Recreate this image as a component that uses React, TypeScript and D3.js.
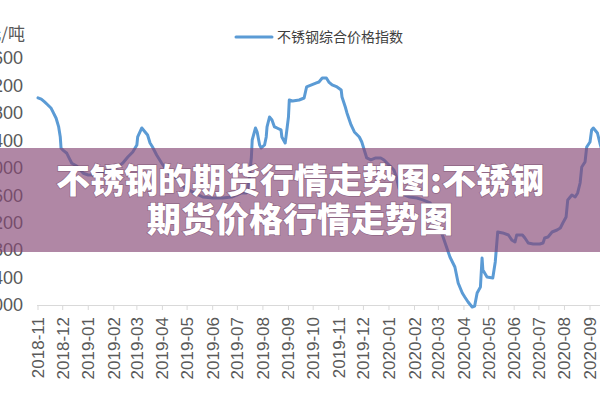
import React from "react";
import * as d3 from "d3";

const dates: string[] = [
  "2018-11-01","2018-11-05","2018-11-09","2018-11-13","2018-11-17","2018-11-19","2018-11-23","2018-11-26","2018-11-28","2018-11-29",
  "2018-12-02","2018-12-06","2018-12-09","2018-12-12","2018-12-18","2018-12-26","2019-01-01","2019-01-09","2019-01-19","2019-01-27",
  "2019-02-06","2019-02-12","2019-02-18","2019-02-24","2019-03-01","2019-03-02","2019-03-07","2019-03-11","2019-03-14","2019-03-17",
  "2019-03-20","2019-03-25","2019-03-31","2019-04-10","2019-04-22","2019-04-28","2019-05-10","2019-05-20","2019-06-01","2019-06-13",
  "2019-06-24","2019-06-30","2019-07-06","2019-07-12","2019-07-15","2019-07-18","2019-07-19","2019-07-23","2019-07-25","2019-07-28",
  "2019-07-30","2019-08-03","2019-08-05","2019-08-06","2019-08-09","2019-08-12","2019-08-15","2019-08-18","2019-08-23","2019-08-24",
  "2019-08-28","2019-08-29","2019-09-01","2019-09-02","2019-09-06","2019-09-14","2019-09-20","2019-09-23","2019-09-29","2019-10-05",
  "2019-10-08","2019-10-12","2019-10-17","2019-10-20","2019-10-24","2019-10-30","2019-11-04","2019-11-05","2019-11-09","2019-11-11",
  "2019-11-16","2019-11-20","2019-11-26","2019-11-29","2019-12-02","2019-12-05","2019-12-10","2019-12-16","2019-12-22","2019-12-26",
  "2020-01-01","2020-01-07","2020-01-10","2020-01-13","2020-01-20","2020-01-26","2020-02-04","2020-02-11","2020-02-20","2020-02-26",
  "2020-03-01","2020-03-05","2020-03-10","2020-03-15","2020-03-21","2020-03-25","2020-03-30","2020-04-02","2020-04-06","2020-04-11",
  "2020-04-14","2020-04-17","2020-04-21","2020-04-23","2020-04-24","2020-04-29","2020-05-06","2020-05-09","2020-05-12","2020-05-18",
  "2020-05-25","2020-05-29","2020-06-02","2020-06-04","2020-06-11","2020-06-14","2020-06-18","2020-06-24","2020-07-02","2020-07-06",
  "2020-07-08","2020-07-12","2020-07-17","2020-07-23","2020-07-27","2020-07-30","2020-08-03","2020-08-05","2020-08-10","2020-08-14",
  "2020-08-17","2020-08-20","2020-08-22","2020-08-26","2020-08-28","2020-09-01","2020-09-03","2020-09-05","2020-09-10","2020-09-13",
  "2020-09-17"
];

const priceIndex: number[] = [
  17020,17000,16960,16915,16867,16818,16722,16600,16453,16284,
  16249,16211,16138,16066,16026,15920,15895,15895,15939,15968,
  16012,16070,16157,16230,16332,16449,16580,16522,16478,16361,
  16303,16187,16070,15895,15822,15706,15633,15574,15560,15560,
  15574,15603,15633,15633,15778,16157,16405,16580,16522,16332,
  16289,16332,16449,16595,16740,16697,16595,16580,16551,16449,
  16361,16449,16740,16988,16974,16988,17017,17178,17207,17236,
  17250,17309,17309,17250,17207,17178,17134,17032,16886,16799,
  16624,16522,16449,16376,16259,16143,16114,16143,16143,16114,
  16041,15968,15866,15706,15603,15574,15560,15531,15487,15341,
  15195,15050,14875,14700,14554,14321,14175,14117,14044,13970,
  13985,14175,14262,14685,14510,14408,14394,14627,15064,15050,
  15020,14948,14918,15020,15020,14977,14904,14889,14889,14904,
  14977,14991,15064,15093,15122,15195,15283,15531,15603,15574,
  15633,15778,16012,16085,16303,16376,16551,16580,16507,16361,
  16187
];

const yTicks: number[] = [14000,14400,14800,15200,15600,16000,16400,16800,17200,17600];
const xStart = "2018-11-01";
const xEnd = "2020-09-01";
const seriesName = "不锈钢综合价格指数";
const yUnit = "元/吨";
const titleLines: string[] = ["不锈钢的期货行情走势图:不锈钢", "期货价格行情走势图"];

export default function App() {
  const W = 600, H = 400;
  const parse = d3.timeParse("%Y-%m-%d");
  const x = d3.scaleTime().domain([parse(xStart)!, parse(xEnd)!]).range([38, 590]);
  const y = d3.scaleLinear().domain([14000, 17600]).range([305, 58]);
  const pts = dates.map((d, i) => [parse(d)!, priceIndex[i]] as [Date, number]);
  const line = d3.line<[Date, number]>().x(d => x(d[0])).y(d => y(d[1])).curve(d3.curveLinear);
  const months = d3.timeMonth.range(parse(xStart)!, d3.timeDay.offset(parse(xEnd)!, 1));
  const fmt = d3.timeFormat("%Y-%m");
  const numFont = "'Liberation Sans', Arial, sans-serif";
  const cjkFont = "'Noto Sans CJK SC', sans-serif";
  return (
    <svg width={W} height={H} style={{ position: "absolute", left: 0, top: 0, background: "#fff" }}>
      <rect x={0} y={0} width={W} height={H} fill="#ffffff" />
      {/* y-axis labels */}
      {yTicks.map(t => (
        <text key={t} x={23} y={y(t)} dy="0.35em" textAnchor="end" fontSize={18} fill="#595959" fontFamily={numFont}>
          {t}
        </text>
      ))}
      <text x={25} y={34} dy="0.35em" textAnchor="end" fontSize={17} fill="#595959" fontFamily={cjkFont}>{yUnit}</text>
      {/* x axis */}
      <line x1={37} x2={600} y1={305.5} y2={305.5} stroke="#d9d9d9" strokeWidth={1} />
      {months.map(m => (
        <g key={+m}>
          <line x1={x(m)} x2={x(m)} y1={305.5} y2={310} stroke="#d9d9d9" strokeWidth={1} />
          <text transform={`translate(${x(m) + 6},317) rotate(-90)`} textAnchor="end" fontSize={17} fill="#595959" fontFamily={numFont}>
            {fmt(m)}
          </text>
        </g>
      ))}
      {/* legend */}
      <line x1={236} x2={272} y1={37} y2={37} stroke="#5b9bd5" strokeWidth={3} strokeLinecap="round" />
      <text x={277} y={37} dy="0.35em" fontSize={14} fill="#404040" fontFamily={cjkFont}>{seriesName}</text>
      {/* series */}
      <path d={line(pts) || ""} fill="none" stroke="#5b9bd5" strokeWidth={3} strokeLinejoin="round" strokeLinecap="round" />
      {/* banner overlay */}
      <rect x={0} y={148} width={W} height={104} fill="rgb(134,70,116)" fillOpacity={0.65} />
      {titleLines.map((t, i) => (
        <text key={i} x={300} y={i === 0 ? 181 : 220} dy="0.35em" textAnchor="middle" fontSize={34} fontWeight={900}
          fill="#ffffff" fontFamily={cjkFont} style={{ paintOrder: "stroke" }} stroke="rgba(80,40,70,0.35)" strokeWidth={1.5}>
          {t}
        </text>
      ))}
    </svg>
  );
}
